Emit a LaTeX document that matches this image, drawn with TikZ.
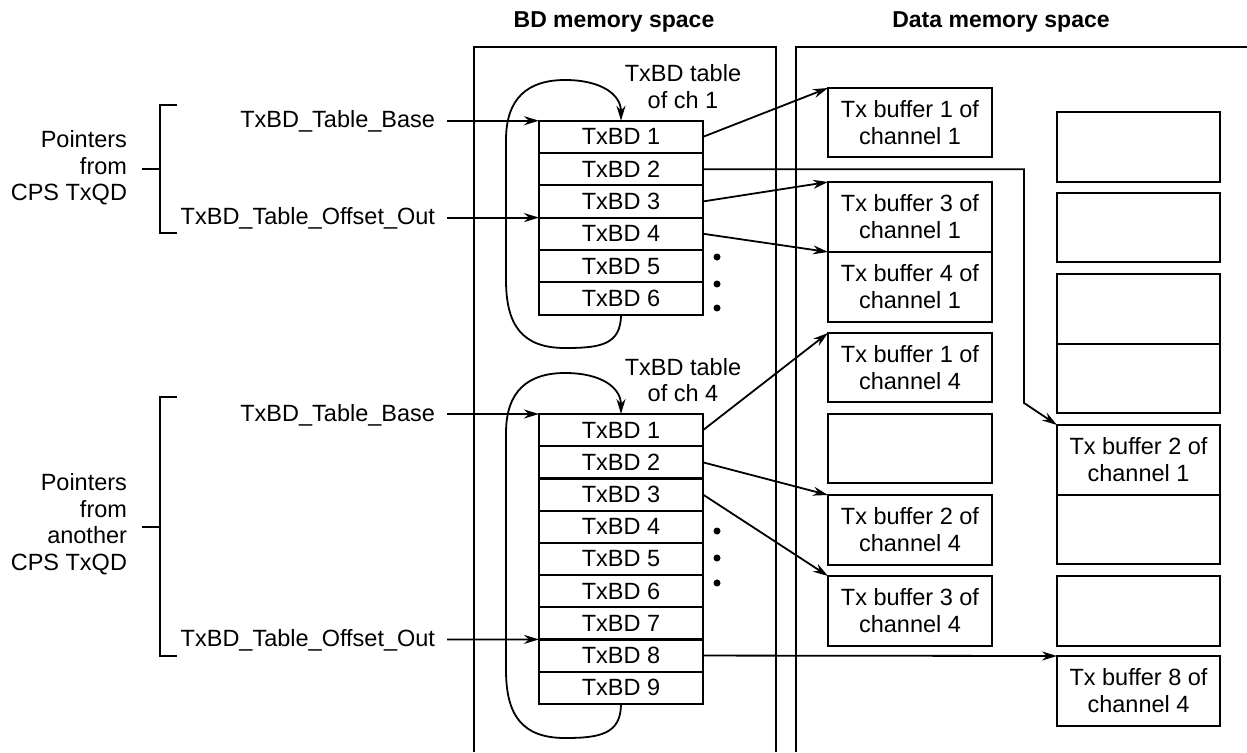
\documentclass[tikz,border=0pt]{standalone}
\usepackage{fontspec}
\setmainfont{Liberation Sans}
\usetikzlibrary{arrows.meta}
\begin{document}
\begin{tikzpicture}[x=1pt,y=-1pt,
  every node/.style={font=\fontsize{23.5}{27}\selectfont, inner sep=0pt, outer sep=0pt},
  rowbox/.style={draw, line width=2pt, minimum width=164pt, minimum height=32.3pt, anchor=north west},
  bufbox/.style={draw, line width=2pt, minimum width=164pt, anchor=north west, align=center},
  arr/.style={line width=1.8pt, -{Stealth[length=15pt,width=9pt]}},
  frame/.style={line width=2pt},
  brk/.style={line width=2pt},
  dot/.style={fill, circle, minimum size=7pt, inner sep=0pt},
  ptr/.style={anchor=east},
  grp/.style={anchor=east, align=right, font=\fontsize{23.5}{26.5}\selectfont},
  head/.style={font=\fontsize{23}{27}\selectfont\bfseries},
  tlab/.style={align=center, font=\fontsize{23.5}{26.5}\selectfont}
]
\useasboundingbox (0,0) rectangle (1247,752);

% headers
\node[head] (hbd) at (614,22) {BD memory space};
\node[head] (hdata) at (1001,22) {Data memory space};

% frames
\draw[frame] (474,752) -- (474,47) -- (776,47) -- (776,752);
\draw[frame] (796,752) -- (796,47) -- (1247,47);

% table of ch 1
\foreach \i in {1,...,6}
  \node[rowbox] (a\i) at (539,{120.7+32.3*(\i-1)}) {TxBD \i};
% table of ch 4
\foreach \i in {1,...,9}
  \node[rowbox] (c\i) at (539,{414+32.2*(\i-1)}) {TxBD \i};

\node[tlab] (ta) at (683,86.5) {TxBD table\\of ch 1};
\node[tlab] (tc) at (683,380) {TxBD table\\of ch 4};

% dots
\node[dot] (d1) at (717,257) {};
\node[dot] (d2) at (717,284) {};
\node[dot] (d3) at (717,308) {};
\node[dot] (d4) at (717,531) {};
\node[dot] (d5) at (717,558) {};
\node[dot] (d6) at (717,583) {};

% data buffers, column 1
\node[bufbox, minimum height=69pt] (b11) at (828,88) {Tx buffer 1 of\\channel 1};
\node[bufbox, minimum height=70pt] (b13) at (828,182) {Tx buffer 3 of\\channel 1};
\node[bufbox, minimum height=70pt] (b14) at (828,252) {Tx buffer 4 of\\channel 1};
\node[bufbox, minimum height=69pt] (b41) at (828,333) {Tx buffer 1 of\\channel 4};
\node[bufbox, minimum height=69pt] (e1) at (828,414) {};
\node[bufbox, minimum height=70pt] (b42) at (828,495) {Tx buffer 2 of\\channel 4};
\node[bufbox, minimum height=70pt] (b43) at (828,576) {Tx buffer 3 of\\channel 4};

% data buffers, column 2
\node[bufbox, minimum width=163pt, minimum height=70pt] (f1) at (1057,112) {};
\node[bufbox, minimum width=163pt, minimum height=69pt] (f2) at (1057,193) {};
\node[bufbox, minimum width=163pt, minimum height=70pt] (f3) at (1057,274) {};
\node[bufbox, minimum width=163pt, minimum height=69pt] (f4) at (1057,344) {};
\node[bufbox, minimum width=163pt, minimum height=70pt] (b12) at (1057,425) {Tx buffer 2 of\\channel 1};
\node[bufbox, minimum width=163pt, minimum height=69pt] (f5) at (1057,495) {};
\node[bufbox, minimum width=163pt, minimum height=70pt] (f6) at (1057,576) {};
\node[bufbox, minimum width=163pt, minimum height=70pt] (b48) at (1057,656) {Tx buffer 8 of\\channel 4};

% pointer labels
\node[ptr] (pa1) at (435,121.5) {TxBD\_Table\_Base};
\node[ptr] (pa2) at (435,218.5) {TxBD\_Table\_Offset\_Out};
\node[ptr] (pc1) at (435,415) {TxBD\_Table\_Base};
\node[ptr] (pc2) at (435,640.5) {TxBD\_Table\_Offset\_Out};

\draw[arr] (447,120.7) coordinate (sa1) -- (a1.north west);
\draw[arr] (447,217.6) coordinate (sa2) -- (a4.north west);
\draw[arr] (447,414) coordinate (sc1) -- (c1.north west);
\draw[arr] (447,639.4) coordinate (sc2) -- (c8.north west);

% group labels and brackets
\node[grp] (ga) at (127,168) {Pointers\\from\\CPS TxQD};
\node[grp] (gc) at (127,524) {Pointers\\from\\another\\CPS TxQD};
\draw[brk] (177,105) -- (160,105) -- (160,233) -- (177,233);
\draw[brk] (142,169) -- (160,169);
\draw[brk] (177,397) -- (160,397) -- (160,656) -- (177,656);
\draw[brk] (142,527) -- (160,527);

% loops
\draw[arr] (a6.south) .. controls (621,345) and (600,348) .. (565,348)
  .. controls (522,348) and (506,325) .. (506,280) -- (506,140)
  .. controls (506,98) and (528,80) .. (565,80)
  .. controls (602,80) and (621,95) .. (a1.north);
\draw[arr] (c9.south) .. controls (621,734) and (600,738) .. (565,738)
  .. controls (522,738) and (506,715) .. (506,670) -- (506,433)
  .. controls (506,391) and (528,373) .. (565,373)
  .. controls (602,373) and (621,388) .. (c1.north);

% pointers to buffers
\coordinate (bend) at (1024,403);
\draw[arr] (a1.east) -- (b11.north west);
\draw[arr] (a2.east) -| (bend) -- (b12.north west);
\draw[arr] (a3.east) -- (b13.north west);
\draw[arr] (a4.east) -- (b14.north west);
\draw[arr] (c1.east) -- (b41.north west);
\draw[arr] (c2.east) -- (b42.north west);
\draw[arr] (c3.east) -- (b43.north west);
\draw[arr] (c8.east) -- (b48.north west);
\end{tikzpicture}
\end{document}
